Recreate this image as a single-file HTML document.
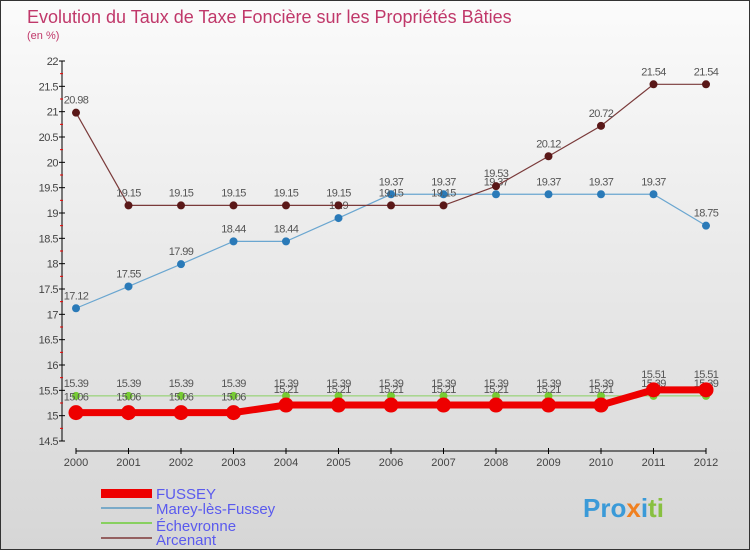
<!DOCTYPE html>
<html><head><meta charset="utf-8"><style>
body{margin:0;width:750px;height:550px;overflow:hidden;font-family:"Liberation Sans","DejaVu Sans",sans-serif}
#wrap{position:absolute;left:0;top:0;width:748px;height:548px;border:1px solid #333;background:linear-gradient(#fbfbfb,#d6d6d6)}
</style></head><body>
<div id="wrap">
<svg id="chart" width="748" height="548" xmlns="http://www.w3.org/2000/svg">
<text x="26" y="22" font-size="18" fill="#c0386a">Evolution du Taux de Taxe Foncière sur les Propriétés Bâties</text>
<text x="26" y="38" font-size="11" fill="#c0386a">(en %)</text>
<g id="axes"></g><g id="series"></g>
<g>
<rect x="100" y="488" width="51" height="9" fill="#e00"/>
<text x="155" y="498" font-size="15" fill="#5a5aee">FUSSEY</text>
<rect x="100" y="506" width="51" height="2" fill="#7aaac8"/>
<text x="155" y="513" font-size="15" fill="#5a5aee">Marey-lès-Fussey</text>
<rect x="100" y="521" width="51" height="2" fill="#88d060"/>
<text x="155" y="530" font-size="15" fill="#5a5aee">Échevronne</text>
<rect x="100" y="536" width="51" height="2" fill="#946060"/>
<text x="155" y="544" font-size="15" fill="#5a5aee">Arcenant</text>
</g>
<text x="582" y="516" font-size="26" font-weight="bold" fill="#3a9ad8">Pro<tspan fill="#f08020">x</tspan>i<tspan fill="#88c040">ti</tspan></text>
</svg></div>
<script>
const years=[2000,2001,2002,2003,2004,2005,2006,2007,2008,2009,2010,2011,2012];
const fussey=[15.06,15.06,15.06,15.06,15.21,15.21,15.21,15.21,15.21,15.21,15.21,15.51,15.51];
const marey=[17.12,17.55,17.99,18.44,18.44,18.9,19.37,19.37,19.37,19.37,19.37,19.37,18.75];
const eche=[15.39,15.39,15.39,15.39,15.39,15.39,15.39,15.39,15.39,15.39,15.39,15.39,15.39];
const arce=[20.98,19.15,19.15,19.15,19.15,19.15,19.15,19.15,19.53,20.12,20.72,21.54,21.54];
const yTicks=[14.5,15,15.5,16,16.5,17,17.5,18,18.5,19,19.5,20,20.5,21,21.5,22];
const NS="http://www.w3.org/2000/svg";
const X=i=>75+i*(630/(years.length-1));
const Y=v=>440-(v-14.5)*(380/7.5);
function mk(t,a,p){const e=document.createElementNS(NS,t);for(const k in a)e.setAttribute(k,a[k]);p.appendChild(e);return e;}
const ax=document.getElementById('axes'),sr=document.getElementById('series');
const yl=mk('line',{x1:61,y1:Y(22),x2:61,y2:Y(14.5),stroke:'#000'},ax);


yTicks.forEach(v=>{
  mk('line',{x1:58,x2:64,y1:Y(v),y2:Y(v),stroke:'#000'},ax);
  mk('line',{x1:59,x2:62,y1:Y(v+0.25),y2:Y(v+0.25),stroke:v<22?'#e00':'none'},ax);
  const t=mk('text',{x:57,y:Y(v)+4,'font-size':11,'text-anchor':'end',fill:'#444','letter-spacing':'-0.5'},ax);
  t.textContent=v;
  
  
});
const xl=mk('line',{x1:X(0),y1:450,x2:X(12),y2:450,stroke:'#000'},ax);


years.forEach((y,i)=>{
  mk('line',{x1:X(i),x2:X(i),y1:447,y2:453,stroke:'#000'},ax);
  const t=mk('text',{x:X(i),y:465,'font-size':11,'text-anchor':'middle',fill:'#444'},ax);
  t.textContent=y;
  
  
});
function series(vals,color,lw,r,name,dot,lblDy){
  const g=mk('g',{},sr);
  
  
  const pl=mk('polyline',{points:vals.map((v,i)=>X(i)+','+Y(v)).join(' '),fill:'none',stroke:color,'stroke-width':lw},g);
  
  
  vals.forEach((v,i)=>{
    const c=mk('circle',{cx:X(i),cy:Y(v),r:r,fill:dot},g);
    
    
    const t=mk('text',{x:X(i),y:Y(v)+lblDy,'font-size':11,'text-anchor':'middle',fill:'#555','letter-spacing':'-0.6'},g);
    t.textContent=v;
    
    
  });
}
series(eche,'#88d060',1,4,'echevronne','#77cc33',-9);
series(marey,'#6aa6d0',1.2,4,'marey','#2a7ab8',-9);
series(arce,'#7a3a3a',1.2,4,'arcenant','#5a1818',-9);
series(fussey,'#ee0000',7,7.5,'fussey','#ee0000',-12);
</script>
</body></html>
